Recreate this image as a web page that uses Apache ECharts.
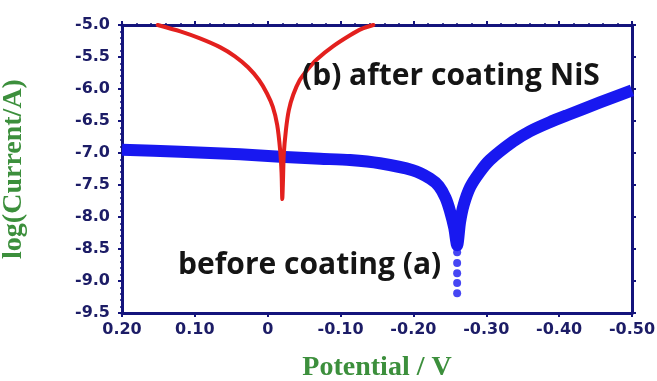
<!DOCTYPE html>
<html>
<head>
<meta charset="utf-8">
<script src="https://cdn.jsdelivr.net/npm/echarts@6/dist/echarts.min.js"></script>
<style>
html,body{margin:0;padding:0;background:#fff;}
#chart{width:657px;height:381px;}
</style>
</head>
<body>
<div id="chart"></div>
<script>
// ---- data ----
// (a) before coating : potential (V), log(current/A)
var beforePotential = [0.200, 0.120, 0.038, -0.017, -0.072, -0.113, -0.154, -0.199, -0.223, -0.235, -0.244, -0.250, -0.256, -0.260,
                       -0.264, -0.269, -0.278, -0.291, -0.305, -0.337, -0.360, -0.387, -0.411, -0.456, -0.500];
var beforeLog       = [-6.95, -6.98, -7.02, -7.06, -7.09, -7.11, -7.16, -7.27, -7.40, -7.52, -7.70, -7.90, -8.17, -8.44,
                       -8.08, -7.81, -7.53, -7.30, -7.11, -6.82, -6.66, -6.52, -6.41, -6.21, -6.02];
// isolated points below the (a) minimum
var beforeTailPotential = [-0.260, -0.260, -0.260, -0.260, -0.260];
var beforeTailLog       = [-8.55, -8.72, -8.88, -9.03, -9.19];
// (b) after coating NiS
var afterPotential = [0.151, 0.120, 0.093, 0.065, 0.045, 0.027, 0.012, 0.001, -0.007, -0.013, -0.017, -0.019, -0.020,
                      -0.021, -0.022, -0.025, -0.029, -0.035, -0.044, -0.055, -0.068, -0.090, -0.113, -0.129, -0.145];
var afterLog       = [-5.00, -5.10, -5.21, -5.35, -5.49, -5.66, -5.86, -6.07, -6.28, -6.56, -6.95, -7.31, -7.72,
                      -7.42, -7.03, -6.64, -6.33, -6.09, -5.86, -5.69, -5.53, -5.33, -5.16, -5.06, -5.00];
// tick labels
var xTickValues = [0.2, 0.1, 0, -0.1, -0.2, -0.3, -0.4, -0.5];
var xTickLabels = ['0.20', '0.10', '0', '-0.10', '-0.20', '-0.30', '-0.40', '-0.50'];
var yTickValues = [-5.0, -5.5, -6.0, -6.5, -7.0, -7.5, -8.0, -8.5, -9.0, -9.5];
var yTickLabels = ['-5.0', '-5.5', '-6.0', '-6.5', '-7.0', '-7.5', '-8.0', '-8.5', '-9.0', '-9.5'];
var xAxisTitle = 'Potential / V';
var yAxisTitle = 'log(Current/A)';
var labelA = 'before coating (a)';
var labelB = '(b) after coating NiS';

function zip(a, b) { return a.map(function (v, i) { return [v, b[i]]; }); }
function lookup(vals, labels, v) {
  for (var i = 0; i < vals.length; i++) if (Math.abs(vals[i] - v) < 1e-6) return labels[i];
  return '';
}

var frame = '#14147c';
var tickFont = {color: '#1c1c66', fontFamily: 'DejaVu Sans', fontWeight: 'bold', fontSize: 16};
var green = '#3c8f3c';

var chart = echarts.init(document.getElementById('chart'), null, {renderer: 'canvas'});
var common = {
  axisLine: {show: true, onZero: false, lineStyle: {color: frame, width: 3}},
  axisTick: {show: true, inside: false, length: 4, lineStyle: {color: frame, width: 2}},
  minorTick: {show: true, splitNumber: 5, length: 2, lineStyle: {color: frame, width: 1.5}},
  splitLine: {show: false}
};
chart.setOption({
  animation: false,
  backgroundColor: '#ffffff',
  grid: {left: 122, top: 25, right: 25, bottom: 68, containLabel: false, outerBoundsMode: 'none'},
  xAxis: [
    Object.assign({
      type: 'value', min: -0.5, max: 0.2, interval: 0.1, inverse: true, position: 'bottom',
      name: xAxisTitle, nameLocation: 'middle', nameGap: 41,
      nameTextStyle: {color: green, fontFamily: 'Liberation Serif', fontWeight: 'bold', fontSize: 28},
      axisLabel: Object.assign({margin: 9, formatter: function (v) { return lookup(xTickValues, xTickLabels, v); }}, tickFont)
    }, common),
    Object.assign({
      type: 'value', min: -0.5, max: 0.2, interval: 0.1, inverse: true, position: 'top',
      axisLabel: {show: false}
    }, common)
  ],
  yAxis: [
    Object.assign({
      type: 'value', min: -9.5, max: -5.0, interval: 0.5, position: 'left',
      name: yAxisTitle, nameLocation: 'middle', nameGap: 94,
      nameTextStyle: {color: green, fontFamily: 'Liberation Serif', fontWeight: 'bold', fontSize: 28},
      axisLabel: Object.assign({margin: 12, formatter: function (v) { return lookup(yTickValues, yTickLabels, v); }}, tickFont)
    }, common),
    Object.assign({
      type: 'value', min: -9.5, max: -5.0, interval: 0.5, position: 'right',
      axisLabel: {show: false}
    }, common)
  ],
  series: [
    {
      type: 'line', xAxisIndex: 0, yAxisIndex: 0, data: zip(beforePotential, beforeLog),
      smooth: 0.25, showSymbol: false, clip: true,
      lineStyle: {color: '#1818f0', width: 12, cap: 'butt', join: 'round'}
    },
    {
      type: 'scatter', xAxisIndex: 0, yAxisIndex: 0, data: zip(beforeTailPotential, beforeTailLog),
      symbol: 'circle', symbolSize: 8, itemStyle: {color: '#1818f0'}
    },
    {
      type: 'line', xAxisIndex: 0, yAxisIndex: 0, data: zip(afterPotential, afterLog),
      smooth: 0.25, showSymbol: false, clip: true,
      lineStyle: {color: '#e3201e', width: 4, cap: 'round', join: 'round'}
    }
  ],
  graphic: [
    {type: 'text', x: 302, y: 76, z: 100,
     style: {text: labelB, fill: '#151515', font: 'bold 30px "Open Sans"', verticalAlign: 'middle', align: 'left'}},
    {type: 'text', x: 178, y: 265, z: 100,
     style: {text: labelA, fill: '#151515', font: 'bold 30px "Open Sans"', verticalAlign: 'middle', align: 'left'}}
  ]
});
</script>
</body>
</html>
